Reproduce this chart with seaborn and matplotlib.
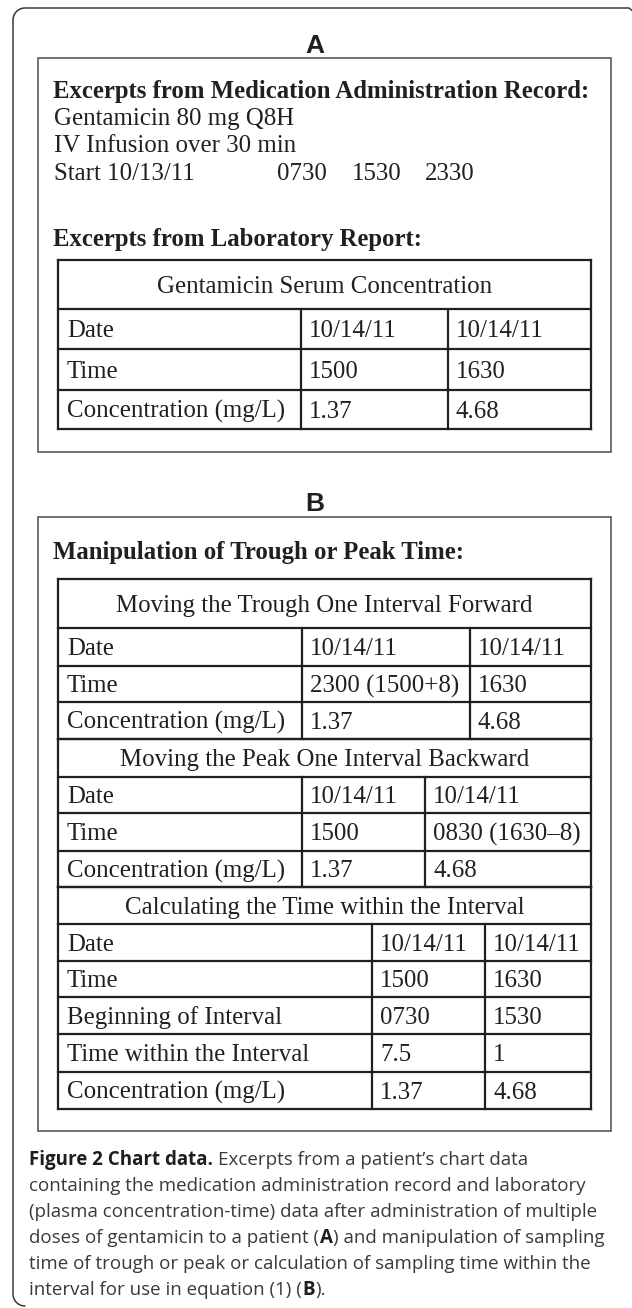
import numpy as np
import matplotlib
matplotlib.use("Agg")
import matplotlib.pyplot as plt
import seaborn as sns
from matplotlib.patches import Rectangle

# ---------------- data ----------------
panel_labels = ["A", "B"]
mar_header = "Excerpts from Medication Administration Record:"
mar_lines = ["Gentamicin 80 mg Q8H", "IV Infusion over 30 min"]
start_label = "Start 10/13/11"
dose_times = ["0730", "1530", "2330"]
lab_header = "Excerpts from Laboratory Report:"
lab_title = "Gentamicin Serum Concentration"
lab_rows = ["Date", "Time", "Concentration (mg/L)"]
lab_trough = ["10/14/11", "1500", "1.37"]
lab_peak = ["10/14/11", "1630", "4.68"]

manip_header = "Manipulation of Trough or Peak Time:"
sec1_title = "Moving the Trough One Interval Forward"
sec1_rows = ["Date", "Time", "Concentration (mg/L)"]
sec1_trough = ["10/14/11", "2300 (1500+8)", "1.37"]
sec1_peak = ["10/14/11", "1630", "4.68"]
sec2_title = "Moving the Peak One Interval Backward"
sec2_rows = ["Date", "Time", "Concentration (mg/L)"]
sec2_trough = ["10/14/11", "1500", "1.37"]
sec2_peak = ["10/14/11", "0830 (1630\u20138)", "4.68"]
sec3_title = "Calculating the Time within the Interval"
sec3_rows = ["Date", "Time", "Beginning of Interval", "Time within the Interval",
             "Concentration (mg/L)"]
sec3_trough = ["10/14/11", "1500", "0730", "7.5", "1.37"]
sec3_peak = ["10/14/11", "1630", "1530", "1", "4.68"]

caption_lines = [
    [("Figure 2 Chart data.", True), (" ", None), ("Excerpts from a patient\u2019s chart data", False)],
    [("containing the medication administration record and laboratory", False)],
    [("(plasma concentration-time) data after administration of multiple", False)],
    [("doses of gentamicin to a patient (", False), ("A", True), (") and manipulation of sampling", False)],
    [("time of trough or peak or calculation of sampling time within the", False)],
    [("interval for use in equation (1) (", False), ("B", True), (").", False)],
]

# ---------------- style ----------------
sns.set_theme(style="white")
SERIF = ["Liberation Serif", "DejaVu Serif"]
SANS = ["Open Sans", "DejaVu Sans"]
plt.rcParams["font.family"] = SERIF
INK = "#231f20"
CAP = "#3a3a3a"
PX = 100 / 72.0

W, H = 632, 1308
fig = plt.figure(figsize=(W / 100, H / 100), dpi=100)
fig.patch.set_facecolor("white")
ax = fig.add_axes([0, 0, 1, 1])
ax.set_xlim(0, W)
ax.set_ylim(H, 0)
ax.axis("off")
sns.despine(ax=ax, left=True, bottom=True)
renderer = fig.canvas.get_renderer()


def twidth(s, fs, **kw):
    t = ax.text(0, 100, s, fontsize=fs, **kw)
    bb = t.get_window_extent(renderer)
    t.remove()
    return bb.width


def fit(s, target, **kw):
    return 20 * target / twidth(s, 20, **kw)


fs_bold = fit(mar_header, 536, family=SERIF, weight="bold")
fs_reg = fit(lab_title, 334, family=SERIF)
fs_cap = fit("doses of gentamicin to a patient (A) and manipulation of sampling", 573, family=SANS)


def put(x, yc, s, fs, ha="left", weight="normal", family=SERIF, color=INK, capk=0.331):
    return ax.text(x, yc + capk * fs * PX, s, fontsize=fs, ha=ha, va="baseline",
                   fontweight=weight, family=family, color=color)


# outer frame: rounded top-left / bottom-left corners, open at right and bottom
R = 12
FX, FY, FB = 13, 8, 1306
th = np.linspace(0, np.pi / 2, 20)
frame_x = np.concatenate([
    [W + 2, W - 3],
    (W - 3) + 5 * np.sin(th)[::-1] * 0,  # keep flat top until near edge
    FX + R - R * np.sin(th),
    [FX, FX],
    FX + R - R * np.cos(th),
])
frame_y = np.concatenate([
    [FY + 4, FY],
    np.full(20, FY),
    FY + R - R * np.cos(th),
    [FY + R, FB - R],
    FB - R + R * np.sin(th),
])
ax.plot(frame_x, frame_y, color="#3a3a3a", lw=1.1)

# panel boxes
BX0, BX1 = 38, 611
ax.add_patch(Rectangle((BX0, 58), BX1 - BX0, 452 - 58, fill=False, lw=1.1, ec="#4a4a4a"))
ax.add_patch(Rectangle((BX0, 517), BX1 - BX0, 1131 - 517, fill=False, lw=1.1, ec="#4a4a4a"))

put(W / 2 - 1, 44, panel_labels[0], 19, ha="center", weight="bold", family=["Liberation Sans"], capk=0.358)
put(W / 2 - 1, 502, panel_labels[1], 19, ha="center", weight="bold", family=["Liberation Sans"], capk=0.358)

# ---- panel A text ----
TX = 53
put(TX, 90, mar_header, fs_bold, weight="bold")
for yc, s in zip([117, 144], mar_lines):
    put(TX + 1, yc, s, fs_reg)
put(TX + 1, 172, start_label, fs_reg)
for x, s in zip([277, 352, 425], dose_times):
    put(x, 172, s, fs_reg)
put(TX, 238, lab_header, fs_bold, weight="bold")

TL, TR = 58, 591
LW = 1.6


def hline(y, x0=TL, x1=TR):
    ax.plot([x0, x1], [y, y], color=INK, lw=LW, solid_capstyle="projecting")


def vline(x, y0, y1):
    ax.plot([x, x], [y0, y1], color=INK, lw=LW, solid_capstyle="projecting")


def section(title, title_top, bounds, labels, c1, c2, xc1, xc2):
    hline(title_top)
    put((TL + TR) / 2, (title_top + bounds[0]) / 2, title, fs_reg, ha="center")
    hline(bounds[0])
    for i, (lab, a, b) in enumerate(zip(labels, c1, c2)):
        y0, y1 = bounds[i], bounds[i + 1]
        yc = (y0 + y1) / 2
        hline(y1)
        vline(xc1, y0, y1)
        vline(xc2, y0, y1)
        put(TL + 9, yc, lab, fs_reg)
        put(xc1 + 8, yc, a, fs_reg)
        put(xc2 + 8, yc, b, fs_reg)
    vline(TL, title_top, bounds[-1])
    vline(TR, title_top, bounds[-1])


section(lab_title, 260, [309, 349, 390, 429], lab_rows, lab_trough, lab_peak, 301, 448)

# ---- panel B ----
put(TX, 551, manip_header, fs_bold, weight="bold")
section(sec1_title, 579, [628, 666, 702, 739], sec1_rows, sec1_trough, sec1_peak, 302, 470)
section(sec2_title, 739, [777, 813, 851, 887], sec2_rows, sec2_trough, sec2_peak, 302, 425)
section(sec3_title, 887, [924, 961, 997, 1034, 1072, 1109], sec3_rows, sec3_trough, sec3_peak, 372, 485)

# ---- caption ----
space_w = twidth("a a", fs_cap, family=SANS) - twidth("aa", fs_cap, family=SANS)
cap_y = [1158, 1184, 1210, 1236, 1262, 1288]
for yc, pieces in zip(cap_y, caption_lines):
    x = 29
    for s, bold in pieces:
        if bold is None:
            x += space_w
            continue
        t = put(x, yc, s, fs_cap, weight="bold" if bold else "normal", family=SANS,
                color="#1e1e1e" if bold else CAP, capk=0.36)
        x = t.get_window_extent(renderer).x1 + 0.5

fig.savefig("out.png", dpi=100, facecolor="white")
